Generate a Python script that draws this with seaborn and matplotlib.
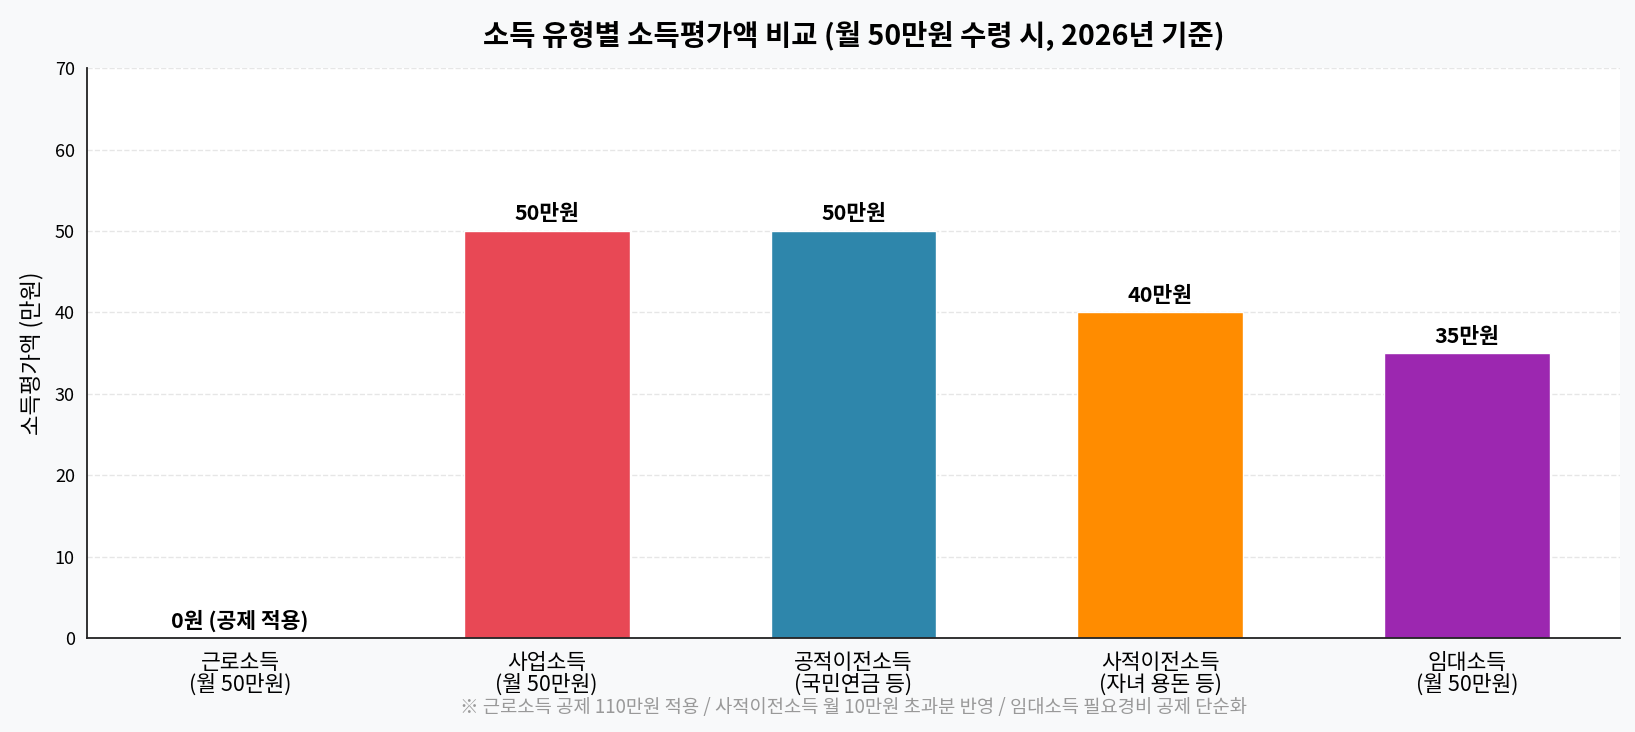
import matplotlib
matplotlib.use('Agg')
import matplotlib.pyplot as plt
import seaborn as sns
import pandas as pd

# 소득 유형별 소득평가액 (만원)
categories = ['근로소득\n(월 50만원)', '사업소득\n(월 50만원)', '공적이전소득\n(국민연금 등)',
              '사적이전소득\n(자녀 용돈 등)', '임대소득\n(월 50만원)']
values = [0, 50, 50, 40, 35]
value_labels = ['0원 (공제 적용)', '50만원', '50만원', '40만원', '35만원']
colors = ['#2E86AB', '#E84855', '#2E86AB', '#FF8C00', '#9C27B0']

sns.set_style('white')
plt.rcParams['font.family'] = ['Noto Sans CJK KR', 'DejaVu Sans']
plt.rcParams['axes.unicode_minus'] = False
plt.rcParams['text.color'] = 'black'
plt.rcParams['axes.labelcolor'] = 'black'
plt.rcParams['xtick.color'] = 'black'
plt.rcParams['ytick.color'] = 'black'

df = pd.DataFrame({'category': categories, 'value': values})

fig, ax = plt.subplots(figsize=(16.35, 7.32), dpi=100)
fig.patch.set_facecolor('#f8f9fa')
ax.set_facecolor('white')

sns.barplot(data=df, x='category', y='value', hue='category', palette=colors,
            legend=False, width=0.54, saturation=1, ax=ax)

for i, (v, lab) in enumerate(zip(values, value_labels)):
    ax.text(i, v + 0.8, lab, ha='center', va='bottom', fontsize=15.5, fontweight='bold')

ax.set_ylim(0, 70)
ax.set_xlim(-0.5, 4.5)
ax.set_xlabel('')
ax.set_ylabel('소득평가액 (만원)', fontsize=16, labelpad=8)
ax.tick_params(axis='x', labelsize=15.5, length=5, width=1.2, color='#222222', pad=5)
ax.tick_params(axis='y', labelsize=13, length=5, width=1.2, color='#222222')
ax.yaxis.grid(True, linestyle='--', color='#e6e6e6', linewidth=1)
ax.set_axisbelow(True)
for s in ['top', 'right']:
    ax.spines[s].set_visible(False)
for s in ['left', 'bottom']:
    ax.spines[s].set_color('#222222')
    ax.spines[s].set_linewidth(1.3)
for t in ax.get_xticklabels():
    t.set_linespacing(0.95)

ax.set_title('소득 유형별 소득평가액 비교 (월 50만원 수령 시, 2026년 기준)',
             fontsize=20.5, fontweight='bold', pad=17)

fig.text(0.522, 0.034, '※ 근로소득 공제 110만원 적용 / 사적이전소득 월 10만원 초과분 반영 / 임대소득 필요경비 공제 단순화',
         ha='center', va='center', fontsize=13.5, color='#999999')

fig.subplots_adjust(left=0.053, right=0.991, top=0.907, bottom=0.128)
fig.savefig('out.png', dpi=100, facecolor=fig.get_facecolor())
